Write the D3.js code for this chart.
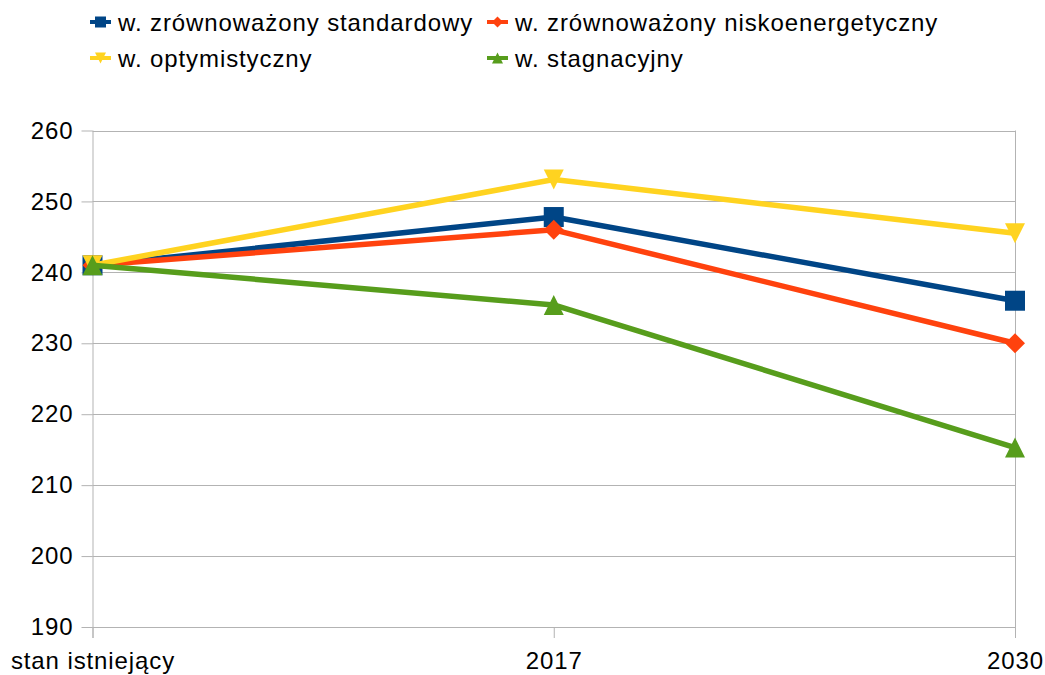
<!DOCTYPE html>
<html>
<head>
<meta charset="utf-8">
<script src="https://cdn.jsdelivr.net/npm/d3@7"></script>
<style>
  html, body { margin: 0; padding: 0; background: #fff; }
  svg { display: block; font-family: "Liberation Sans", Arial, sans-serif; }
  text { letter-spacing: 0.9px; }
</style>
</head>
<body>
<svg id="chart" width="1045" height="675"></svg>
<script>
// Categories on the x axis
const categories = ["stan istniejący", "2017", "2030"];

// Series names and values
const seriesNames = [
  "w. zrównoważony standardowy",
  "w. zrównoważony niskoenergetyczny",
  "w. optymistyczny",
  "w. stagnacyjny"
];
const standardowy = [241, 247.8, 236];
const niskoenergetyczny = [241, 246, 230];
const optymistyczny = [241, 253.1, 245.5];
const stagnacyjny = [241, 235.4, 215.3];

const yTicks = [190, 200, 210, 220, 230, 240, 250, 260];

const colors = ["#004586", "#ff420e", "#ffd320", "#579d1c"];
const shapes = ["square", "diamond", "triDown", "triUp"];
const values = [standardowy, niskoenergetyczny, optymistyczny, stagnacyjny];

const svg = d3.select("#chart");
const plotLeft = 92.5, plotRight = 1015, plotTop = 130.5, plotBottom = 627;

const x = d3.scalePoint().domain(categories).range([plotLeft, plotRight]);
const y = d3.scaleLinear().domain([190, 260]).range([plotBottom, plotTop]);

// Horizontal grid lines
svg.append("g").selectAll("line").data(yTicks).join("line")
  .attr("x1", plotLeft).attr("x2", plotRight)
  .attr("y1", d => Math.round(y(d)) + 0.5).attr("y2", d => Math.round(y(d)) + 0.5)
  .attr("stroke", "#b3b3b3").attr("stroke-width", 1);

// Y axis
const yAxis = svg.append("g")
  .attr("transform", `translate(${plotLeft},0)`)
  .call(d3.axisLeft(y).tickValues(yTicks).tickSize(11).tickPadding(8).tickFormat(d3.format("d")));
yAxis.select(".domain").attr("stroke", "#b3b3b3").attr("d", `M0.5,${plotTop}V${plotBottom + 11}`);
yAxis.selectAll(".tick line").attr("stroke", "#b3b3b3");
yAxis.selectAll(".tick text").attr("font-size", 24).attr("fill", "#000")
  .attr("font-family", "Liberation Sans, Arial, sans-serif");

// X axis with vertical lines at the category positions
const xAxis = svg.append("g")
  .attr("transform", `translate(0,${plotBottom})`)
  .call(d3.axisBottom(x).tickSize(11).tickPadding(14));
xAxis.select(".domain").attr("stroke", "#b3b3b3").attr("d", `M${plotLeft},0.5H${plotRight}`);
xAxis.selectAll(".tick line").attr("stroke", "#b3b3b3");
xAxis.selectAll(".tick text").attr("font-size", 24).attr("fill", "#000")
  .attr("font-family", "Liberation Sans, Arial, sans-serif");
// Vertical line at the last category
svg.append("line").attr("x1", plotRight + 0.5).attr("x2", plotRight + 0.5)
  .attr("y1", plotTop).attr("y2", plotBottom).attr("stroke", "#b3b3b3");

function markerPath(shape, s) {
  const h = s / 2;
  switch (shape) {
    case "square": return `M${-h},${-h}H${h}V${h}H${-h}Z`;
    case "diamond": return `M0,${-h}L${h},0L0,${h}L${-h},0Z`;
    case "triDown": return `M${-h},${-h}H${h}L0,${h}Z`;
    case "triUp": return `M${-h},${h}H${h}L0,${-h}Z`;
  }
}

const line = d3.line().x((d, i) => x(categories[i])).y(d => y(d));

values.forEach((vals, si) => {
  const g = svg.append("g");
  g.append("path").datum(vals).attr("d", line)
    .attr("fill", "none").attr("stroke", colors[si]).attr("stroke-width", 5.5)
    .attr("stroke-linejoin", "round");
  g.selectAll("path.m").data(vals).join("path").attr("class", "m")
    .attr("transform", (d, i) => `translate(${x(categories[i])},${y(d)})`)
    .attr("d", markerPath(shapes[si], 20))
    .attr("fill", colors[si]);
});

// Legend
const legendPos = [[90, 22], [487, 22], [90, 58], [487, 58]];
seriesNames.forEach((name, i) => {
  const [lx, ly] = legendPos[i];
  const g = svg.append("g").attr("transform", `translate(${lx},${ly})`);
  g.append("line").attr("x1", 0).attr("x2", 21).attr("y1", 0).attr("y2", 0)
    .attr("stroke", colors[i]).attr("stroke-width", 4);
  g.append("path").attr("transform", "translate(10.5,0)")
    .attr("d", markerPath(shapes[i], 11)).attr("fill", colors[i]);
  g.append("text").attr("x", 28).attr("y", 9).attr("font-size", 24)
    .attr("fill", "#000").text(name);
});
</script>
</body>
</html>
